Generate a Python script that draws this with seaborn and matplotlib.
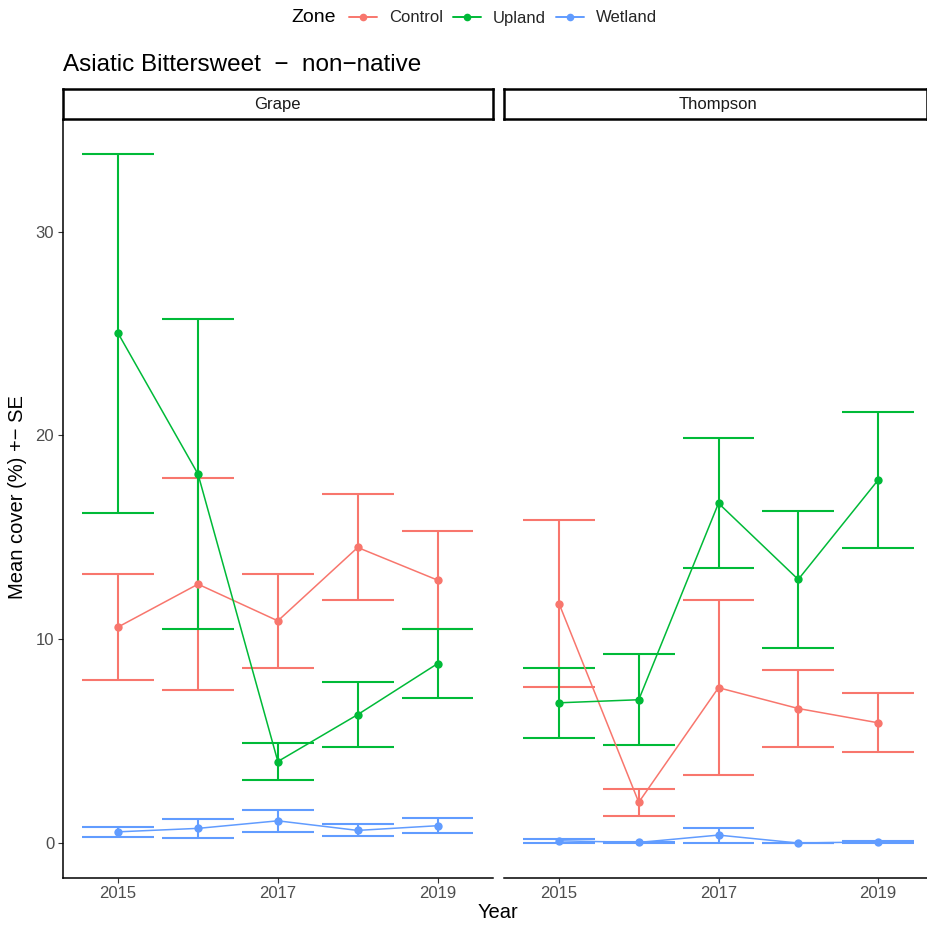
import matplotlib
matplotlib.use("Agg")
import matplotlib.pyplot as plt
from matplotlib.lines import Line2D
import pandas as pd
import seaborn as sns

years = [2015, 2016, 2017, 2018, 2019]
zones = ["Control", "Upland", "Wetland"]
sites = ["Grape", "Thompson"]

# mean cover (%) and SE
grape_control = [10.6, 12.7, 10.9, 14.5, 12.9]
grape_control_se = [2.6, 5.2, 2.3, 2.6, 2.4]
grape_upland = [25.0, 18.1, 4.0, 6.3, 8.8]
grape_upland_se = [8.8, 7.6, 0.9, 1.6, 1.7]
grape_wetland = [0.55, 0.72, 1.09, 0.62, 0.85]
grape_wetland_se = [0.25, 0.47, 0.55, 0.29, 0.37]

thompson_control = [11.75, 2.0, 7.62, 6.6, 5.9]
thompson_control_se = [4.1, 0.67, 4.3, 1.88, 1.44]
thompson_upland = [6.88, 7.03, 16.67, 12.93, 17.8]
thompson_upland_se = [1.72, 2.24, 3.2, 3.37, 3.33]
thompson_wetland = [0.11, 0.03, 0.39, 0.0, 0.06]
thompson_wetland_se = [0.11, 0.02, 0.37, 0.0, 0.06]

palette = {"Control": "#F8766D", "Upland": "#00BA38", "Wetland": "#619CFF"}

series = {
    ("Grape", "Control"): (grape_control, grape_control_se),
    ("Grape", "Upland"): (grape_upland, grape_upland_se),
    ("Grape", "Wetland"): (grape_wetland, grape_wetland_se),
    ("Thompson", "Control"): (thompson_control, thompson_control_se),
    ("Thompson", "Upland"): (thompson_upland, thompson_upland_se),
    ("Thompson", "Wetland"): (thompson_wetland, thompson_wetland_se),
}
rows = []
for (site, zone), (m, s) in series.items():
    for y, mv, sv in zip(years, m, s):
        rows.append({"Site": site, "Zone": zone, "Year": y, "mean": mv, "se": sv})
df = pd.DataFrame(rows)
df["lo"] = df["mean"] - df["se"]
df["hi"] = df["mean"] + df["se"]

sns.set_theme(style="ticks")
plt.rcParams["font.family"] = ["Liberation Sans", "DejaVu Sans"]

W, H = 928, 926
fig = plt.figure(figsize=(W / 100, H / 100), dpi=100)


def px(x0, y_top, x1, y_bot):
    return [x0 / W, 1 - y_bot / H, (x1 - x0) / W, (y_bot - y_top) / H]


panels = {"Grape": (62.7, 493.0), "Thompson": (503.6, 933.4)}
top_px, bot_px = 120, 877.7
half = 0.45
ylim = (-1.7, 35.47)
xlim = (2014.305, 2019.695)

for i, site in enumerate(sites):
    x0, x1 = panels[site]
    ax = fig.add_axes(px(x0, top_px, x1, bot_px))
    sub = df[df["Site"] == site]
    for zone in zones:
        z = sub[sub["Zone"] == zone]
        c = palette[zone]
        ax.vlines(z["Year"], z["lo"], z["hi"], color=c, lw=1.5, zorder=2)
        ax.hlines(z["lo"], z["Year"] - half, z["Year"] + half, color=c, lw=1.5, zorder=2)
        ax.hlines(z["hi"], z["Year"] - half, z["Year"] + half, color=c, lw=1.5, zorder=2)
    sns.lineplot(data=sub, x="Year", y="mean", hue="Zone", hue_order=zones,
                 palette=palette, marker="o", markersize=6, markeredgewidth=0,
                 linewidth=1.1, legend=False, ax=ax, zorder=3)
    ax.set_xlim(*xlim)
    ax.set_ylim(*ylim)
    ax.set_xticks([2015, 2017, 2019])
    ax.set_xticklabels(["2015", "2017", "2019"])
    ax.set_xlabel("")
    ax.set_ylabel("")
    ax.tick_params(axis="both", length=3.6, width=0.8, color="#333333",
                   labelsize=12, labelcolor="#4D4D4D", pad=2.5)
    for s in ["top", "right"]:
        ax.spines[s].set_visible(False)
    ax.spines["bottom"].set_linewidth(1.1)
    ax.spines["bottom"].set_color("black")
    if i == 0:
        ax.set_yticks([0, 10, 20, 30])
        ax.spines["left"].set_linewidth(1.1)
        ax.spines["left"].set_color("black")
    else:
        ax.spines["left"].set_visible(False)
        ax.set_yticks([])

    # strip
    sax = fig.add_axes(px(x0, 89, min(x1, 927), 119))
    sax.set_xticks([])
    sax.set_yticks([])
    for s in sax.spines.values():
        s.set_linewidth(1.8)
        s.set_color("black")
    sax.text((x1 - x0) / 2 / (min(x1, 927) - x0), 0.5, site,
             ha="center", va="center", fontsize=12, color="#1A1A1A",
             transform=sax.transAxes)

fig.text(63 / W, 1 - 65 / H, "Asiatic Bittersweet  \u2212  non\u2212native",
         ha="left", va="center", fontsize=17.5, color="black")
fig.text(498 / W, 1 - 913 / H, "Year", ha="center", va="center",
         fontsize=14.5, color="black")
fig.text(18 / W, 1 - 497 / H, "Mean cover (%) +\u2212 SE", ha="center", va="center",
         rotation=90, fontsize=14.5, color="black")

# legend
fig.text(313.5 / W, 1 - 18 / H, "Zone", ha="center", va="center",
         fontsize=14, color="black")
handles = [Line2D([], [], color=palette[z], marker="o", markersize=5.5,
                  markeredgewidth=0, lw=1.4) for z in zones]
fig.legend(handles, zones, loc="center left", bbox_to_anchor=(349 / W, 1 - 18 / H),
           ncol=3, frameon=False, fontsize=12, handlelength=1.68,
           handletextpad=0.72, columnspacing=0.6, borderaxespad=0, borderpad=0)

fig.savefig("out.png", dpi=100)
